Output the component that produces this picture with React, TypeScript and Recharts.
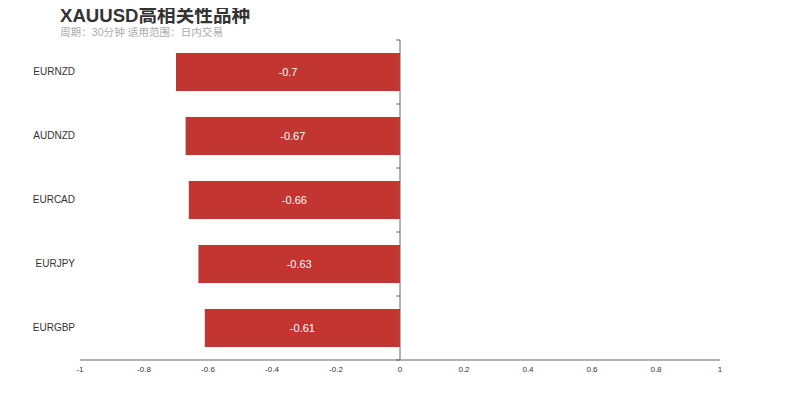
import React from "react";
import { BarChart, Bar, XAxis, YAxis, ReferenceLine, LabelList } from "recharts";

const categories = ["EURNZD", "AUDNZD", "EURCAD", "EURJPY", "EURGBP"];
const values = [-0.7, -0.67, -0.66, -0.63, -0.61];
const xTicks = [-1, -0.8, -0.6, -0.4, -0.2, 0, 0.2, 0.4, 0.6, 0.8, 1];

const data = categories.map((name, i) => ({ name, value: values[i] }));

const FONT = "'Liberation Sans', Arial, sans-serif";

const ZeroAxis = (p: any) => {
  const x1 = Number(p.x1);
  const x2 = Number(p.x2);
  const y1 = Number(p.y1);
  const y2 = Number(p.y2);
  if (!isFinite(x1) || !isFinite(y1) || !isFinite(y2)) return null;
  const top = Math.min(y1, y2);
  const bottom = Math.max(y1, y2);
  const n = categories.length;
  const step = (bottom - top) / n;
  const marks = [];
  for (let i = 0; i <= n; i++) {
    const y = top + step * i;
    marks.push(<line key={i} x1={x1 - 4} x2={x1} y1={y} y2={y} stroke="#666" strokeWidth={1} />);
  }
  return (
    <g>
      <line x1={x1} x2={isFinite(x2) ? x2 : x1} y1={y1} y2={y2} stroke="#666" strokeWidth={1} />
      {marks}
    </g>
  );
};

export default function App() {
  return (
    <div style={{ position: "relative", width: 792, height: 392, fontFamily: FONT }}>
      <div
        style={{
          position: "absolute",
          left: 52,
          top: -8,
          fontSize: 18.6,
          fontWeight: "bold",
          color: "#333",
          fontFamily: "'Liberation Sans', 'Noto Sans CJK SC', sans-serif",
          whiteSpace: "nowrap",
          zIndex: 2,
        }}
      >
        XAUUSD高相关性品种
      </div>
      <div
        style={{
          position: "absolute",
          left: 52,
          top: 16,
          fontSize: 10.6,
          color: "#aaa",
          fontFamily: "'Liberation Sans', 'Noto Sans CJK SC', sans-serif",
          whiteSpace: "nowrap",
          zIndex: 2,
        }}
      >
        周期：30分钟 适用范围：日内交易
      </div>
      <BarChart
        width={792}
        height={392}
        data={data}
        layout="vertical"
        margin={{ top: 32, right: 80, bottom: 20, left: 0 }}
      >
        <XAxis
          type="number"
          domain={[-1, 1]}
          ticks={xTicks}
          interval={0}
          height={20}
          tickLine={false}
          axisLine={{ stroke: "#666" }}
          tick={{ fontSize: 8, fill: "#333", fontFamily: FONT }}
          tickMargin={0}
          allowDataOverflow
        />
        <YAxis
          type="category"
          dataKey="name"
          width={72}
          axisLine={false}
          tickLine={false}
          tickMargin={-1}
          tick={{ fontSize: 10, fill: "#333", fontFamily: FONT, dy: -1 }}
        />
        <ReferenceLine x={0} stroke="#666" shape={ZeroAxis} />
        <Bar dataKey="value" fill="#c23531" barSize={38} isAnimationActive={false}>
          <LabelList
            dataKey="value"
            position="center"
            fill="#fff"
            style={{ fontSize: 11, fontFamily: FONT }}
          />
        </Bar>
      </BarChart>
    </div>
  );
}
